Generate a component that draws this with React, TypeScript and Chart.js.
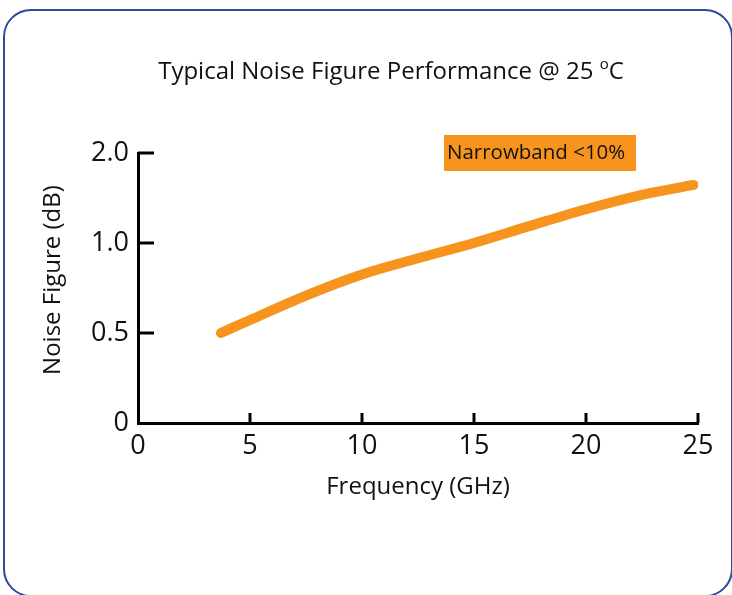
import React, { useEffect, useRef } from "react";
import { Chart, registerables } from "chart.js";

Chart.register(...registerables);

// ---- data ----
const frequencyGHz = [3.7, 5, 7.5, 10, 12.5, 15, 17.5, 20, 22.5, 24.8];
const noiseFigureDb = [0.5, 0.572, 0.708, 0.825, 0.915, 1.0, 1.19, 1.375, 1.535, 1.645];
const yTickLabels = ["0", "0.5", "1.0", "2.0"];
const yTickValues = [0, 0.5, 1.0, 2.0];
const xTicks = [0, 5, 10, 15, 20, 25];
const seriesLabel = "Narrowband <10%";
const chartTitle = "Typical Noise Figure Performance @ 25 ";
const xTitle = "Frequency (GHz)";
const yTitle = "Noise Figure (dB)";

const ORANGE = "#f7941d";
const FONT = "'Open Sans', sans-serif";

// piecewise mapping of dB onto the evenly spaced tick positions
function toPos(v: number): number {
  for (let i = 0; i < yTickValues.length - 1; i++) {
    const a = yTickValues[i];
    const b = yTickValues[i + 1];
    if (v <= b || i === yTickValues.length - 2) {
      return i + (v - a) / (b - a);
    }
  }
  return 0;
}

const decorPlugin = {
  id: "decor",
  afterDraw(chart: any) {
    const ctx = chart.ctx;
    const xs = chart.scales.x;
    const ys = chart.scales.y;
    ctx.save();
    // inward tick marks
    ctx.strokeStyle = "#000";
    ctx.lineWidth = 3;
    const axisY = ys.getPixelForValue(0);
    const axisX = xs.getPixelForValue(0);
    xTicks.forEach((t) => {
      if (t === 0) return;
      const px = xs.getPixelForValue(t);
      ctx.beginPath();
      ctx.moveTo(px, axisY);
      ctx.lineTo(px, axisY - 10);
      ctx.stroke();
    });
    yTickLabels.forEach((_, i) => {
      if (i === 0) return;
      const py = ys.getPixelForValue(i);
      ctx.beginPath();
      ctx.moveTo(axisX, py);
      ctx.lineTo(axisX + 16, py);
      ctx.stroke();
    });
    // title
    ctx.fillStyle = "#111";
    ctx.textBaseline = "middle";
    ctx.font = `24px ${FONT}`;
    const w1 = ctx.measureText(chartTitle).width;
    ctx.font = `15px ${FONT}`;
    const wo = ctx.measureText("o").width;
    ctx.font = `24px ${FONT}`;
    const wc = ctx.measureText("C").width;
    const total = w1 + wo + wc;
    let x = 391 - total / 2;
    const ty = 72;
    ctx.textAlign = "left";
    ctx.fillText(chartTitle, x, ty);
    x += w1;
    ctx.font = `15px ${FONT}`;
    ctx.fillText("o", x, ty - 7);
    x += wo;
    ctx.font = `24px ${FONT}`;
    ctx.fillText("C", x, ty);
    // y axis title
    ctx.save();
    ctx.translate(53, 280);
    ctx.rotate(-Math.PI / 2);
    ctx.textAlign = "center";
    ctx.font = `24px ${FONT}`;
    ctx.fillText(yTitle, 0, 0);
    ctx.restore();
    // legend box
    ctx.fillStyle = ORANGE;
    ctx.fillRect(444, 135, 192, 36);
    ctx.fillStyle = "#111";
    ctx.font = `20.5px ${FONT}`;
    ctx.textAlign = "left";
    ctx.fillText(chart.data.datasets[0].label, 447, 153);
    ctx.restore();
  },
};

export default function App() {
  const ref = useRef<HTMLCanvasElement>(null);
  useEffect(() => {
    if (!ref.current) return;
    const chart = new Chart(ref.current, {
      type: "line",
      data: {
        datasets: [
          {
            label: seriesLabel,
            data: frequencyGHz.map((f, i) => ({ x: f, y: toPos(noiseFigureDb[i]) })),
            borderColor: ORANGE,
            backgroundColor: ORANGE,
            borderWidth: 10,
            borderCapStyle: "round",
            borderJoinStyle: "round",
            pointRadius: 0,
            cubicInterpolationMode: "monotone",
            fill: false,
          },
        ],
      },
      options: {
        animation: false,
        responsive: false,
        devicePixelRatio: 1,
        layout: { padding: { top: 153, right: 34, bottom: 0, left: 0 } },
        plugins: {
          legend: { display: false },
          title: { display: false },
          tooltip: { enabled: false },
        },
        scales: {
          x: {
            type: "linear",
            min: 0,
            max: 25,
            afterBuildTicks: (s: any) => {
              s.ticks = xTicks.map((v) => ({ value: v }));
            },
            afterFit: (s: any) => {
              s.height = 172;
            },
            grid: { display: false, drawTicks: false },
            border: { display: true, color: "#000", width: 3 },
            ticks: {
              color: "#111",
              font: { family: FONT, size: 27 },
              padding: 7,
              maxRotation: 0,
              callback: (v: any) => String(v),
            },
            title: {
              display: true,
              text: xTitle,
              color: "#111",
              font: { family: FONT, size: 24 },
              padding: { top: 0, bottom: 93 },
            },
          },
          y: {
            type: "linear",
            min: 0,
            max: yTickLabels.length - 1,
            afterBuildTicks: (s: any) => {
              s.ticks = yTickLabels.map((_, i) => ({ value: i }));
            },
            afterFit: (s: any) => {
              s.width = 138;
            },
            grid: { display: false, drawTicks: false },
            border: { display: true, color: "#000", width: 3 },
            ticks: {
              color: "#111",
              font: { family: FONT, size: 27 },
              padding: 9,
              callback: (v: any) => yTickLabels[Math.round(Number(v))] ?? "",
            },
            title: { display: false },
          },
        },
      },
      plugins: [decorPlugin],
    } as any);
    return () => chart.destroy();
  }, []);

  return (
    <div style={{ position: "fixed", left: 0, top: 0, width: 732, height: 595, background: "#fff", overflow: "hidden" }}>
      <div
        style={{
          position: "absolute",
          left: 3,
          top: 9,
          width: 730,
          height: 588,
          boxSizing: "border-box",
          border: "2.5px solid #2b4c9b",
          borderRadius: 28,
        }}
      />
      <canvas ref={ref} width={732} height={595} style={{ position: "absolute", left: 0, top: 0, width: 732, height: 595 }} />
    </div>
  );
}
